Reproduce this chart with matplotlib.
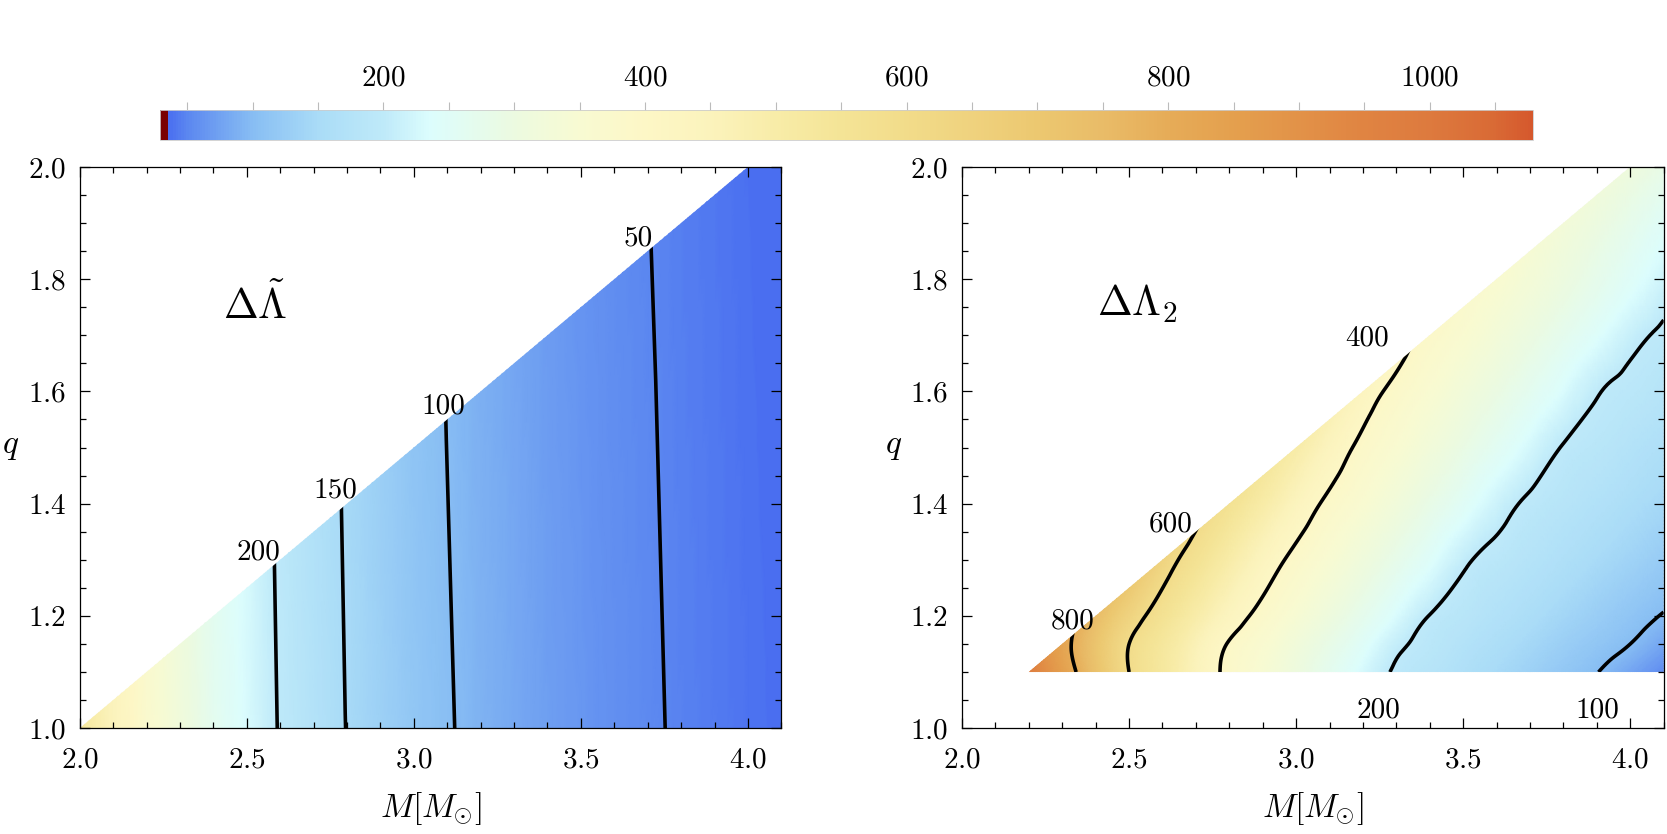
import numpy as np
import matplotlib
matplotlib.use('Agg')
import matplotlib.pyplot as plt
import matplotlib.tri as mtri
from matplotlib.colors import LinearSegmentedColormap, Normalize
from matplotlib.cm import ScalarMappable
from matplotlib.patches import Polygon
from matplotlib.ticker import MultipleLocator

plt.rcParams['font.family'] = 'serif'
plt.rcParams['font.serif'] = ['cmr10']
plt.rcParams['mathtext.fontset'] = 'cm'
plt.rcParams['axes.formatter.use_mathtext'] = True

# left panel: Delta Lambda-tilde, grid
left_M = [2.0, 2.2, 2.4, 2.6, 2.8, 3.0, 3.2, 3.4, 3.6, 3.8, 4.0, 4.1]
left_q = [1.0, 2.0]
left_Z = [
    [527, 369, 266, 197, 149, 115, 90.5, 72.0, 58.0, 47.5, 39.0, 35.7],
    [501, 351, 253, 187, 142, 109, 86.0, 68.4, 55.1, 45.1, 37.0, 33.9],
]
left_levels = [50, 100, 150, 200]
left_domain_M = [2.0, 4.0, 4.1, 4.1]
left_domain_q = [1.0, 2.0, 2.0, 1.0]

# right panel: Delta Lambda_2
right_M = [2.2, 2.3, 2.4, 2.5, 2.6, 2.7, 2.8, 2.9, 3.0, 3.1,
           3.2, 3.3, 3.4, 3.5, 3.6, 3.7, 3.8, 3.9, 4.0, 4.1]
right_q = [1.1, 1.15, 1.2, 1.3, 1.4, 1.5, 1.6, 1.7, 1.8, 2.0]
right_Z = [
    [975, 850, 725, 600, 525, 449, 386, 347, 307, 267, 228, 195, 180, 164, 148, 133, 117, 101, 78, 55],
    [956, 831, 714, 600, 531, 462, 396, 359, 321, 284, 247, 209, 189, 174, 159, 144, 129, 115, 100, 78],
    [976, 859, 747, 642, 562, 497, 433, 382, 345, 308, 271, 233, 199, 184, 170, 156, 141, 127, 113, 98],
    [1067, 956, 844, 740, 640, 562, 499, 436, 385, 349, 314, 278, 243, 207, 189, 176, 163, 149, 136, 123],
    [1178, 1067, 956, 844, 740, 640, 563, 502, 440, 388, 354, 320, 285, 251, 217, 194, 181, 169, 156, 144],
    [1289, 1178, 1067, 956, 844, 740, 640, 562, 500, 438, 387, 355, 323, 290, 258, 226, 198, 186, 174, 162],
    [1400, 1289, 1178, 1067, 956, 844, 740, 640, 561, 497, 432, 385, 355, 324, 294, 264, 233, 203, 190, 179],
    [1511, 1400, 1289, 1178, 1067, 956, 844, 740, 640, 561, 497, 432, 386, 357, 328, 299, 270, 241, 212, 194],
    [1622, 1511, 1400, 1289, 1178, 1067, 956, 844, 740, 640, 561, 497, 432, 386, 358, 331, 303, 275, 247, 219],
    [1844, 1733, 1622, 1511, 1400, 1289, 1178, 1067, 956, 844, 740, 640, 561, 497, 432, 387, 362, 336, 310, 285],
]
right_levels = [100, 200, 400, 600, 800]
right_domain_M = [2.2, 4.0, 4.1, 4.1]
right_domain_q = [1.1, 2.0, 2.0, 1.1]

# contour labels (text, M, q)
left_labels = [('200', 2.535, 1.314), ('150', 2.764, 1.424),
               ('100', 3.088, 1.574), ('50', 3.670, 1.873)]
right_labels = [('800', 2.331, 1.191), ('600', 2.624, 1.364), ('400', 3.212, 1.695),
                ('200', 3.247, 1.032), ('100', 3.903, 1.032)]

vmin, vmax = 35, 1079
cmap_stops = [
    (35, '#4a6ef0'), (50, '#5c88f0'), (100, '#88bef3'), (150, '#aadcf7'),
    (200, '#bfeaf9'), (235, '#dcfdfd'), (300, '#ecfae0'), (350, '#f8fad2'),
    (400, '#fdf7c6'), (450, '#fbf3bc'), (500, '#f8eca8'), (550, '#f4e496'),
    (600, '#f2dc8a'), (650, '#efd27e'), (700, '#ecc870'), (750, '#e9bc68'),
    (800, '#e6ac58'), (850, '#e4a04e'), (900, '#e29248'), (950, '#e08442'),
    (1000, '#dd7a3e'), (1050, '#d96a35'), (1079, '#d5582d'),
]
cmap = LinearSegmentedColormap.from_list(
    'temp', [((v - vmin) / (vmax - vmin), c) for v, c in cmap_stops], N=512)
norm = Normalize(vmin, vmax)

fig = plt.figure(figsize=(16.67, 8.34), dpi=100)
ax1 = fig.add_axes([0.0478, 0.1269, 0.4209, 0.673])
ax2 = fig.add_axes([0.5771, 0.1269, 0.4209, 0.673])
cax = fig.add_axes([159.5 / 1667, 1 - 139.5 / 834, 1373.5 / 1667, 29.5 / 834])


def panel(ax, Mv, qv, Z, levels, dom_M, dom_q, labels, title, smooth):
    MM, QQ = np.meshgrid(Mv, qv)
    z = np.array(Z, dtype=float).ravel()
    poly = Polygon(np.column_stack([dom_M, dom_q]), closed=True,
                   facecolor='none', edgecolor='none')
    ax.add_patch(poly)

    tri = mtri.Triangulation(MM.ravel(), QQ.ravel())
    if smooth:
        interp = mtri.CubicTriInterpolator(tri, z, kind='min_E')
    else:
        interp = mtri.LinearTriInterpolator(tri, z)
    tri_f, z_f = mtri.UniformTriRefiner(tri).refine_field(z, triinterpolator=interp, subdiv=4)

    tp = ax.tripcolor(tri_f, z_f, cmap=cmap, norm=norm, shading='gouraud')
    tp.set_clip_path(poly)
    cl = ax.tricontour(tri_f, z_f, levels=levels, colors='k', linewidths=2.6)
    cl.set_clip_path(poly)
    for txt, m, q in labels:
        ax.text(m, q, txt, ha='center', va='center', fontsize=21)
    ax.text(0.25, 0.755, title, transform=ax.transAxes, fontsize=30,
            ha='center', va='center')

    ax.set_xlim(2.0, 4.1)
    ax.set_ylim(1.0, 2.0)
    ax.xaxis.set_major_locator(MultipleLocator(0.5))
    ax.xaxis.set_minor_locator(MultipleLocator(0.1))
    ax.yaxis.set_major_locator(MultipleLocator(0.2))
    ax.yaxis.set_minor_locator(MultipleLocator(0.05))
    ax.tick_params(which='both', direction='in', top=True, right=True,
                   labelsize=21, width=0.9)
    ax.tick_params(which='major', length=7)
    ax.tick_params(which='minor', length=4)
    ax.tick_params(axis='x', pad=14)
    ax.tick_params(axis='y', pad=10)
    for s in ax.spines.values():
        s.set_linewidth(0.9)
    ax.set_xlabel(r'$M[M_{\odot}]$', fontsize=24)
    ax.set_ylabel(r'$q$', fontsize=24, rotation=0, va='center')
    ax.xaxis.set_label_coords(0.5, -0.11)
    ax.yaxis.set_label_coords(-0.098, 0.5)


panel(ax1, left_M, left_q, left_Z, left_levels, left_domain_M, left_domain_q,
      left_labels, r'$\Delta\tilde{\Lambda}$', smooth=False)
panel(ax2, right_M, right_q, right_Z, right_levels, right_domain_M, right_domain_q,
      right_labels, r'$\Delta\Lambda_2$', smooth=True)

bar_cmap = cmap.with_extremes(under='#7a0000')
sm = ScalarMappable(norm=norm, cmap=bar_cmap)
cb = fig.colorbar(sm, cax=cax, orientation='horizontal', extend='min',
                  extendrect=True, extendfrac=0.006)
cb.set_ticks([200, 400, 600, 800, 1000])
cb.ax.xaxis.set_minor_locator(MultipleLocator(50))
cax.xaxis.set_ticks_position('top')
cax.tick_params(which='both', direction='out', color='#bbbbbb', length=6,
                width=0.8, labelsize=21, pad=7)
cb.outline.set_edgecolor('#cccccc')
cb.outline.set_linewidth(0.6)

fig.savefig('out.png', dpi=100)
